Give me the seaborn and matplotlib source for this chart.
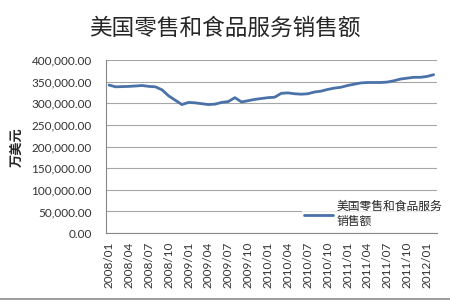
import matplotlib
matplotlib.use("Agg")
import matplotlib.pyplot as plt
from matplotlib.lines import Line2D
import seaborn as sns
import pandas as pd
import numpy as np

# Months 2008/01 .. 2012/02
months = [f"{2008 + i // 12}/{i % 12 + 1:02d}" for i in range(50)]
sales = [342000, 338000, 338500, 339000, 340000, 341000, 339000, 338000, 331000, 317000,
         307000, 297000, 302000, 301000, 299000, 297000, 298000, 302000, 304000, 313000,
         303000, 306000, 309000, 311000, 313000, 314000, 323000, 324000, 322000, 321000,
         322000, 326000, 328000, 332000, 335000, 337000, 341000, 344000, 347000, 348000,
         348000, 348000, 349000, 352000, 356000, 358000, 360000, 360000, 362000, 366000]
tick_labels = months[::3]
series_name = "美国零售和食品服务销售额"
title = "美国零售和食品服务销售额"
ylabel = "万美元"

df = pd.DataFrame({"idx": np.arange(len(sales)), "value": sales, "series": series_name})

sns.set_theme(style="white")
plt.rcParams['font.family'] = ['Noto Sans CJK SC', 'DejaVu Sans']

fig = plt.figure(figsize=(4.5, 3.0), dpi=100)
ax = fig.add_axes([0.235, 0.223, 0.736, 0.577])

sns.lineplot(data=df, x="idx", y="value", ax=ax, color="#4a72a8", linewidth=2.0,
             label="美国零售和食品服务\n销售额")

ax.set_xlim(-0.5, len(sales) - 0.5)
ax.set_ylim(0, 400000)
ax.set_yticks(np.arange(0, 400001, 50000))
ax.set_yticklabels([f"{v:,.2f}" for v in np.arange(0, 400001, 50000)], fontsize=8.5,
                   color="#333333", family="Lato")
ax.set_xticks(np.arange(0, len(sales), 3))
ax.set_xticklabels(tick_labels, rotation=90, fontsize=8.5, color="#333333", family="Lato")
ax.tick_params(axis="y", length=0, pad=10)
ax.tick_params(axis="x", length=0, pad=6)
ax.grid(axis="y", color="#a6a6a6", linewidth=0.8)
ax.set_axisbelow(True)
for s in ["top", "right"]:
    ax.spines[s].set_visible(False)
for s in ["left", "bottom"]:
    ax.spines[s].set_color("#888888")
    ax.spines[s].set_linewidth(0.8)

ax.set_xlabel("")
ax.set_ylabel("")
fig.text(17 / 450, 1 - 147 / 300, ylabel, rotation=90, ha="center", va="center",
         fontsize=9.5, fontweight="bold")
fig.text(0.5, 0.907, title, ha="center", va="center", fontsize=16.3)

leg = ax.legend(loc="center left", bbox_to_anchor=(0.575, 0.11), fontsize=8.5,
                frameon=True, handlelength=2.4, handletextpad=0.3, borderpad=0.2,
                labelspacing=0.35)
leg.get_frame().set_facecolor("white")
leg.get_frame().set_edgecolor("none")

# outer chart border at the bottom edge
fig.add_artist(Line2D([0, 1], [1 - 298.5 / 300] * 2, transform=fig.transFigure,
                      color="#8c8c8c", linewidth=1.2))

fig.savefig("out.png", dpi=100, facecolor="white")
